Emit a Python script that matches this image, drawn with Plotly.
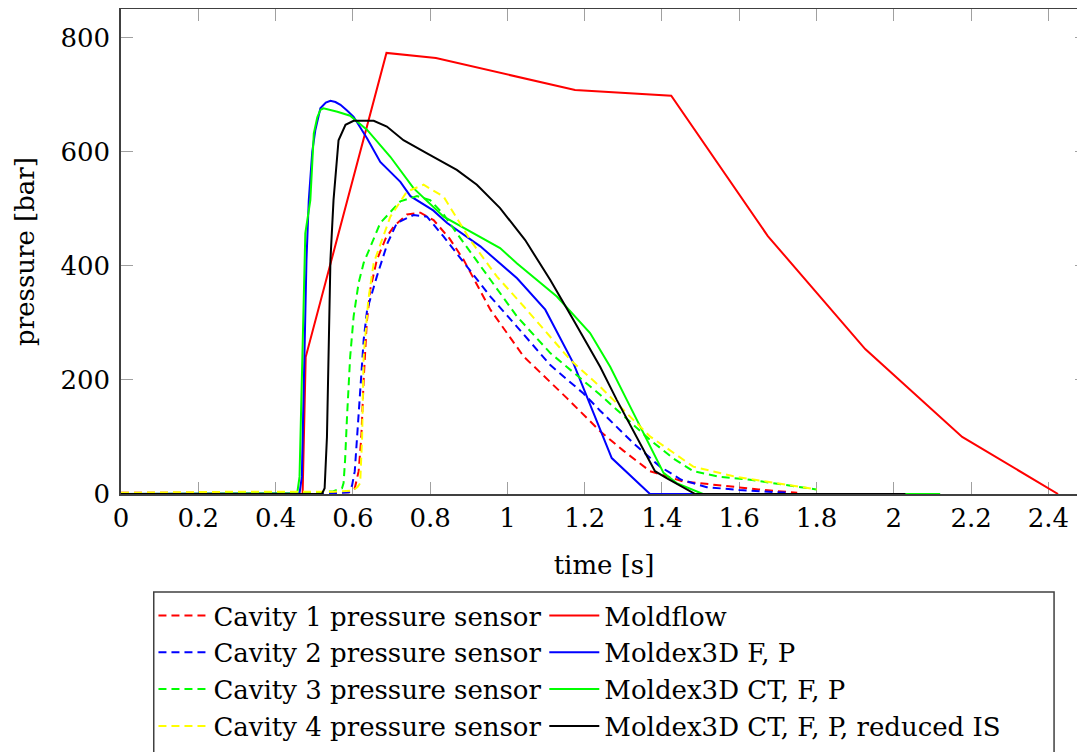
import plotly.graph_objects as go

# ---------------- data ----------------
c1_t = [0, 0.3, 0.55, 0.59, 0.605, 0.615, 0.622, 0.628, 0.636, 0.645, 0.662, 0.685, 0.706, 0.74, 0.775, 0.809,
        0.85, 0.887, 0.956, 1.042, 1.154, 1.24, 1.3, 1.369, 1.455, 1.55, 1.65, 1.75]
c1_p = [2, 2, 2, 3, 10, 40, 100, 200, 300, 358, 410, 448, 469, 490, 493, 480,
        448, 410, 323, 241, 168, 110, 76, 40, 22, 15, 8, 2]

c2_t = [0, 0.3, 0.55, 0.59, 0.598, 0.605, 0.612, 0.619, 0.628, 0.637, 0.662, 0.69, 0.714, 0.757, 0.792, 0.835,
        0.895, 0.956, 1.025, 1.111, 1.197, 1.24, 1.326, 1.395, 1.45, 1.516, 1.6, 1.731]
c2_p = [1, 1, 1, 3, 15, 40, 110, 195, 270, 323, 381, 440, 475, 489, 486, 451,
        398, 346, 293, 226, 176, 146, 89, 48, 25, 12, 7, 2]

c3_t = [0, 0.3, 0.5, 0.55, 0.565, 0.572, 0.576, 0.58, 0.585, 0.593, 0.602, 0.615, 0.628, 0.671, 0.723, 0.766,
        0.8, 0.835, 0.869, 0.939, 1.025, 1.111, 1.24, 1.369, 1.43, 1.481, 1.55, 1.628, 1.7, 1.8]
c3_p = [1, 2, 2, 5, 8, 10, 19, 60, 136, 240, 311, 370, 405, 475, 513, 522,
        515, 490, 457, 392, 311, 247, 174, 95, 62, 40, 30, 25, 18, 8]

c4_t = [0, 0.1, 0.3, 0.45, 0.55, 0.6, 0.612, 0.619, 0.624, 0.628, 0.64, 0.654, 0.697, 0.74, 0.783, 0.835,
        0.904, 0.973, 1.042, 1.163, 1.24, 1.369, 1.481, 1.585, 1.7, 1.8]
c4_p = [2, 3, 4, 4, 4, 6, 12, 19, 100, 241, 340, 405, 486, 530, 542, 521,
        445, 381, 329, 235, 188, 101, 48, 31, 18, 8]

mf_t = [0, 0.47, 0.478, 0.687, 0.815, 1.175, 1.424, 1.674, 1.926, 2.177, 2.425]
mf_p = [0, 0, 240, 773, 764, 708, 698, 452, 254, 100, 0]

fp_t = [0, 0.3, 0.462, 0.468, 0.474, 0.48, 0.486, 0.495, 0.503, 0.516, 0.53, 0.542, 0.555, 0.568, 0.585, 0.602,
        0.637, 0.671, 0.723, 0.749, 0.808, 0.844, 0.93, 1.025, 1.098, 1.171, 1.27, 1.369, 2.03]
fp_p = [0, 0, 1, 30, 200, 410, 515, 600, 638, 676, 686, 689, 687, 682, 672, 661,
        623, 582, 547, 522, 497, 475, 434, 378, 323, 229, 63, 0, 0]

ct_t = [0, 0.3, 0.456, 0.462, 0.468, 0.477, 0.49, 0.499, 0.508, 0.516, 0.524, 0.56, 0.593, 0.637, 0.697, 0.757,
        0.835, 0.912, 0.981, 1.025, 1.128, 1.214, 1.266, 1.309, 1.404, 1.438, 1.506, 2.12]
ct_p = [0, 0, 1, 30, 200, 457, 515, 632, 660, 673, 676, 670, 663, 638, 591, 536,
        486, 457, 431, 404, 346, 282, 223, 165, 37, 19, 0, 0]

is_t = [0, 0.3, 0.52, 0.527, 0.533, 0.542, 0.55, 0.563, 0.581, 0.602, 0.654, 0.688, 0.731, 0.792, 0.869, 0.921,
        0.981, 1.046, 1.111, 1.171, 1.24, 1.283, 1.382, 1.412, 1.486, 2.03]
is_p = [0, 0, 0, 10, 100, 410, 515, 620, 647, 654, 654, 644, 620, 597, 568, 542,
        501, 445, 375, 305, 223, 165, 40, 28, 0, 0]

x_ticks = [0, 0.2, 0.4, 0.6, 0.8, 1, 1.2, 1.4, 1.6, 1.8, 2, 2.2, 2.4]
x_tick_labels = ["0", "0.2", "0.4", "0.6", "0.8", "1", "1.2", "1.4", "1.6", "1.8", "2", "2.2", "2.4"]
y_ticks = [0, 200, 400, 600, 800]
y_tick_labels = ["0", "200", "400", "600", "800"]

FONT = "DejaVu Serif"
FS = 26
DASH = "8px,5px"

# name, t, p, colour, dash, legend column
series = [
    ("Cavity 1 pressure sensor", c1_t, c1_p, "#ff0000", DASH, "legend"),
    ("Moldflow", mf_t, mf_p, "#ff0000", "solid", "legend2"),
    ("Cavity 2 pressure sensor", c2_t, c2_p, "#0000ff", DASH, "legend"),
    ("Moldex3D F, P", fp_t, fp_p, "#0000ff", "solid", "legend2"),
    ("Cavity 3 pressure sensor", c3_t, c3_p, "#00ff00", DASH, "legend"),
    ("Moldex3D CT, F, P", ct_t, ct_p, "#00ff00", "solid", "legend2"),
    ("Cavity 4 pressure sensor", c4_t, c4_p, "#ffff00", DASH, "legend"),
    ("Moldex3D CT, F, P, reduced IS", is_t, is_p, "#000000", "solid", "legend2"),
]

fig = go.Figure()
for name, t, p, col, dash, lg in series:
    fig.add_trace(go.Scatter(x=t, y=p, mode="lines", name=name, legend=lg,
                             line=dict(color=col, width=2, dash=dash)))

axis_common = dict(
    showline=True, linecolor="#404040", linewidth=1.5, mirror="ticks",
    ticks="inside", ticklen=12, tickwidth=1, tickcolor="#a0a0a0",
    showgrid=False, zeroline=False, layer="below traces",
    tickfont=dict(family=FONT, size=FS, color="black"),
)

fig.update_xaxes(range=[0, 2.5], tickvals=x_ticks, ticktext=x_tick_labels,
                 title=dict(text="time [s]", font=dict(family=FONT, size=FS, color="black"), standoff=24),
                 **axis_common)
fig.update_yaxes(range=[0, 850], tickvals=y_ticks, ticktext=y_tick_labels, ticklabelstandoff=4,
                 title=dict(text="pressure [bar]", font=dict(family=FONT, size=FS, color="black"), standoff=18),
                 **axis_common)

legend_common = dict(
    orientation="v", xanchor="left", yanchor="top", y=-0.2023,
    itemwidth=50, borderwidth=0, bgcolor="rgba(0,0,0,0)",
    font=dict(family=FONT, size=FS, color="black"), tracegroupgap=0, traceorder="normal",
)

fig.update_layout(
    width=1085, height=752,
    margin=dict(l=112.5, r=6, t=1, b=265.7, autoexpand=False),
    paper_bgcolor="white", plot_bgcolor="white",
    font=dict(family=FONT, size=FS, color="black"),
    legend=dict(x=0.0336, **legend_common),
    legend2=dict(x=0.4382, **legend_common),
    shapes=[dict(type="rect", xref="paper", yref="paper",
                 x0=0.0339, x1=0.9659, y0=-0.2023, y1=-0.60,
                 line=dict(color="#404040", width=1.5), fillcolor="rgba(0,0,0,0)",
                 layer="above")],
)

fig.write_html("out.html")
